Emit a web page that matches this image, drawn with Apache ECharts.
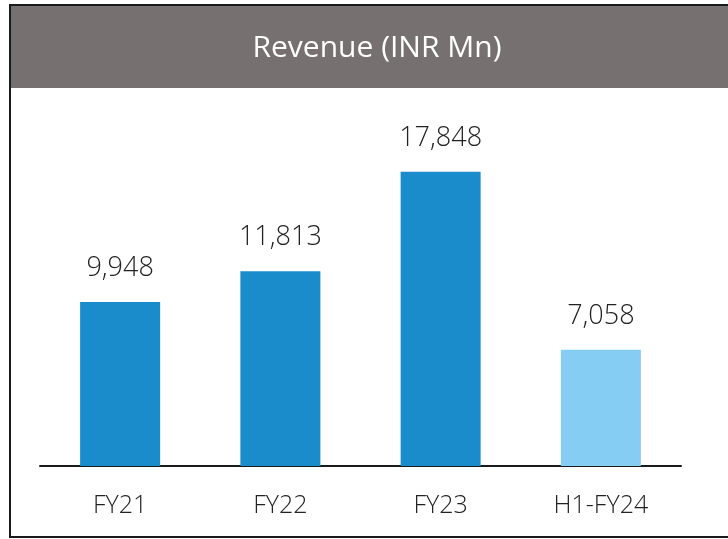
<!DOCTYPE html>
<html>
<head>
<meta charset="utf-8">
<script src="https://cdn.jsdelivr.net/npm/echarts@6/dist/echarts.min.js"></script>
<style>
  html, body { margin: 0; padding: 0; background: #fff; }
  #chart { width: 728px; height: 539px; }
</style>
</head>
<body>
<div id="chart"></div>
<script>
const categories = ["FY21", "FY22", "FY23", "H1-FY24"];
const revenue = [9948, 11813, 17848, 7058];
const barColors = ["#1a8bcb", "#1a8bcb", "#1a8bcb", "#85cdf2"];

const chart = echarts.init(document.getElementById("chart"));
const font = "'Open Sans', 'Noto Sans', sans-serif";

chart.setOption({
  animation: false,
  title: {
    text: "Revenue (INR Mn)",
    left: 372,
    top: 28,
    textAlign: "center",
    textStyle: { color: "#ffffff", fontSize: 30, fontWeight: "normal", fontFamily: font }
  },
  graphic: [
    {
      type: "rect",
      z: -10,
      shape: { x: 10, y: 5, width: 730, height: 532 },
      style: { fill: "#ffffff", stroke: "#1a1a1a", lineWidth: 2 }
    },
    {
      type: "rect",
      z: -5,
      shape: { x: 11, y: 6, width: 730, height: 82 },
      style: { fill: "#767170" }
    }
  ],
  grid: { left: 40, right: 47, top: 100, bottom: 73 },
  xAxis: {
    type: "category",
    data: categories,
    axisLine: { lineStyle: { color: "#1a1a1a", width: 2 } },
    axisTick: { show: false },
    axisLabel: { color: "#222", fontSize: 25, fontWeight: 300, fontFamily: font, margin: 27 }
  },
  yAxis: {
    type: "value",
    min: 0,
    max: 22200,
    show: false,
    splitLine: { show: false }
  },
  series: [
    {
      type: "bar",
      barWidth: 80,
      data: revenue.map((v, i) => ({ value: v, itemStyle: { color: barColors[i] } })),
      label: {
        show: true,
        position: "top",
        distance: 20,
        color: "#222",
        fontSize: 27,
        fontWeight: 300,
        fontFamily: font,
        formatter: p => p.value.toLocaleString("en-US")
      }
    }
  ]
});
</script>
</body>
</html>
